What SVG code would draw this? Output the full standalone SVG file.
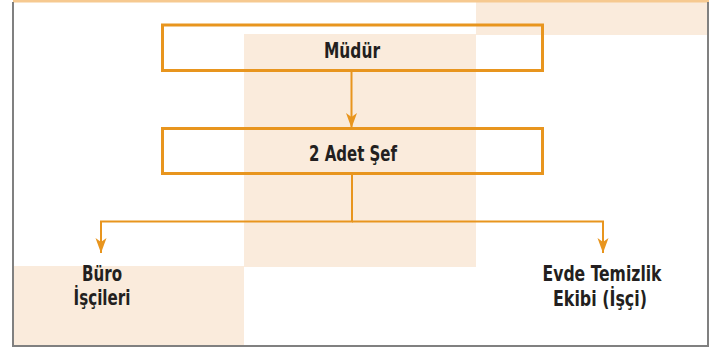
<svg xmlns="http://www.w3.org/2000/svg" width="711" height="347" viewBox="0 0 711 347">
  <defs>
    <style>
      .bg { fill: #FAEBDC; }
      .node { fill: none; stroke: #E8951E; stroke-width: 3; }
      .conn { fill: none; stroke: #E8951E; stroke-width: 2; }
      .lbl { font-family: "DejaVu Sans Condensed", "Liberation Sans Narrow", "Arial Narrow", sans-serif; font-weight: bold; font-size: 22px; fill: #231F20; text-anchor: middle; }
      .frame { fill: none; stroke: #808080; stroke-width: 2; }
    </style>
    <marker id="arr" markerUnits="userSpaceOnUse" viewBox="0 -6 16 12" refX="15" refY="0" markerWidth="16" markerHeight="12" orient="auto">
      <path d="M0,-5.5 L15,0 L0,5.5 L4,0 z" fill="#E8951E"/>
    </marker>
  </defs>
  <rect x="0" y="0" width="711" height="347" fill="#FFFFFF"/>
  <g id="background">
    <rect class="bg" x="476" y="2" width="232" height="33"/>
    <rect class="bg" x="244" y="34" width="232" height="233"/>
    <rect class="bg" x="14" y="266" width="230" height="79"/>
  </g>
  <g id="frame">
    <line x1="13" y1="1" x2="709" y2="1" stroke="#F6C990" stroke-width="3"/>
    <line class="frame" x1="13" y1="2" x2="13" y2="346"/>
    <line class="frame" x1="708" y1="2" x2="708" y2="346"/>
    <line class="frame" x1="12" y1="346" x2="709" y2="346"/>
  </g>
  <g id="connectors">
    <line class="conn" x1="351.5" y1="71" x2="351.5" y2="128" marker-end="url(#arr)"/>
    <polyline class="conn" points="352,174 352,221.5 101,221.5 101,253" marker-end="url(#arr)"/>
    <polyline class="conn" points="352,221.5 603,221.5 603,253" marker-end="url(#arr)"/>
  </g>
  <g id="mudur">
    <rect class="node" x="162.5" y="25" width="380" height="45.5"/>
    <text class="lbl" x="352" y="58" textLength="56" lengthAdjust="spacingAndGlyphs">Müdür</text>
  </g>
  <g id="sef">
    <rect class="node" x="162.5" y="128.5" width="380" height="45"/>
    <text class="lbl" x="353" y="160.5" textLength="88" lengthAdjust="spacingAndGlyphs">2 Adet Şef</text>
  </g>
  <g id="buro">
    <text class="lbl" x="102" y="281" textLength="40" lengthAdjust="spacingAndGlyphs">Büro</text>
    <text class="lbl" x="102" y="305" textLength="57" lengthAdjust="spacingAndGlyphs">İşçileri</text>
  </g>
  <g id="evde">
    <text class="lbl" x="602" y="281" textLength="119" lengthAdjust="spacingAndGlyphs">Evde Temizlik</text>
    <text class="lbl" x="600" y="306" textLength="94" lengthAdjust="spacingAndGlyphs">Ekibi (İşçi)</text>
  </g>
</svg>
